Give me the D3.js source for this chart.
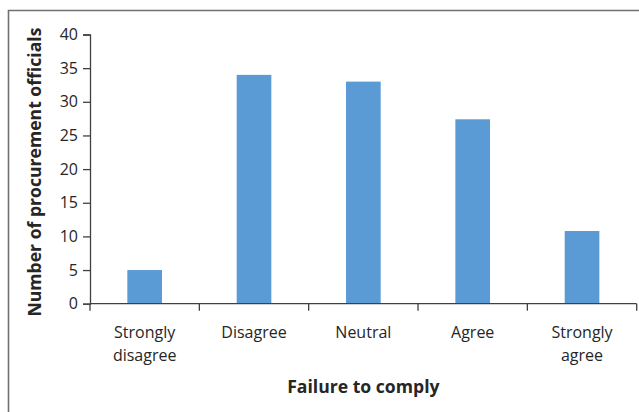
<!DOCTYPE html>
<html>
<head>
<meta charset="utf-8">
<script src="https://cdn.jsdelivr.net/npm/d3@7"></script>
<style>
  html, body { margin: 0; padding: 0; background: #fff; }
  svg { display: block; }
  text { font-family: "Open Sans", "DejaVu Sans", sans-serif; fill: #262626; }
</style>
</head>
<body>
<svg id="chart" width="639" height="412"></svg>
<script>
// Survey responses: failure to comply
const categories = ["Strongly disagree", "Disagree", "Neutral", "Agree", "Strongly agree"];
const categoryLines = [["Strongly", "disagree"], ["Disagree"], ["Neutral"], ["Agree"], ["Strongly", "agree"]];
const counts = [5, 34, 33, 27.4, 10.8];
const yTicks = [0, 5, 10, 15, 20, 25, 30, 35, 40];
const xTitle = "Failure to comply";
const yTitle = "Number of procurement officials";

const svg = d3.select("#chart");
const W = 639, H = 412;
const plot = { left: 90, right: 636.7, top: 34.5, bottom: 303.7 };
const axisColor = "#404040";

// outer frame (top and left edges visible)
svg.append("path")
  .attr("d", `M8.5,${H} L8.5,10.5 L${W},10.5`)
  .attr("fill", "none")
  .attr("stroke", "#707070")
  .attr("stroke-width", 1.6);

const y = d3.scaleLinear().domain([0, 40]).range([plot.bottom, plot.top]);
const xCat = d3.scaleBand().domain(categories).range([plot.left, plot.right]).padding(0);
const xBar = d3.scaleBand().domain(categories).range([plot.left, plot.right])
  .paddingInner(0.683).paddingOuter(0.683 / 2);

// bars
svg.append("g").selectAll("rect")
  .data(categories)
  .join("rect")
  .attr("x", d => xBar(d))
  .attr("width", xBar.bandwidth())
  .attr("y", (d, i) => y(counts[i]))
  .attr("height", (d, i) => y(0) - y(counts[i]))
  .attr("fill", "#5B9BD5");

// y axis
const yAxis = svg.append("g")
  .attr("transform", `translate(${plot.left},0)`)
  .call(d3.axisLeft(y).tickValues(yTicks).tickSize(7).tickPadding(5).tickFormat(d3.format("d")));
yAxis.attr("font-size", null).attr("font-family", null);
yAxis.select(".domain").attr("stroke", axisColor).attr("stroke-width", 1.3);
yAxis.selectAll(".tick line").attr("stroke", axisColor).attr("stroke-width", 1.3);
yAxis.selectAll(".tick text")
  .attr("fill", "#262626")
  .style("font-size", "16px")
  .style("font-family", '"Open Sans", sans-serif');

// x axis line with category boundary ticks
const xAxis = svg.append("g").attr("transform", `translate(0,${plot.bottom})`);
xAxis.append("line")
  .attr("x1", plot.left).attr("x2", plot.right)
  .attr("stroke", axisColor).attr("stroke-width", 1.3);
const bounds = categories.map(c => xCat(c)).concat([plot.right]);
xAxis.selectAll("line.tick")
  .data(bounds)
  .join("line")
  .attr("class", "tick")
  .attr("x1", d => d).attr("x2", d => d)
  .attr("y1", 0).attr("y2", 7)
  .attr("stroke", axisColor).attr("stroke-width", 1.3);

// category labels
const labels = svg.append("g");
categories.forEach((c, i) => {
  const t = labels.append("text")
    .attr("x", xCat(c) + xCat.bandwidth() / 2)
    .attr("y", 338)
    .attr("text-anchor", "middle")
    .style("font-size", "16px");
  categoryLines[i].forEach((line, j) => {
    t.append("tspan")
      .attr("x", xCat(c) + xCat.bandwidth() / 2)
      .attr("dy", j === 0 ? 0 : 22.5)
      .text(line);
  });
});

// axis titles
svg.append("text")
  .attr("x", (plot.left + plot.right) / 2)
  .attr("y", 393)
  .attr("text-anchor", "middle")
  .style("font-size", "17.6px")
  .attr("font-weight", "bold")
  .text(xTitle);

svg.append("text")
  .attr("transform", `translate(40.5,${(plot.top + plot.bottom) / 2 + 3}) rotate(-90)`)
  .attr("text-anchor", "middle")
  .style("font-size", "17.6px")
  .attr("font-weight", "bold")
  .text(yTitle);
</script>
</body>
</html>
